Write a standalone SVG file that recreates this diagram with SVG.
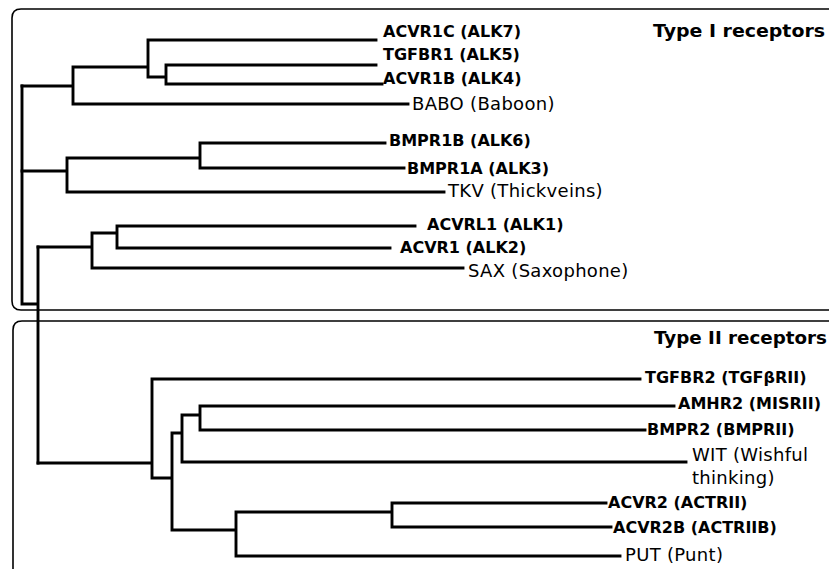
<svg xmlns="http://www.w3.org/2000/svg" width="829" height="569" viewBox="0 0 829 569">
<style>
.box{fill:none;stroke:#000;stroke-width:1.6}
.br{fill:none;stroke:#000;stroke-width:2.9;stroke-linecap:square;stroke-linejoin:miter}
.h{font-family:"DejaVu Sans",sans-serif;font-weight:bold;font-size:16px;fill:#000}
.f{font-family:"DejaVu Sans",sans-serif;font-size:18px;letter-spacing:0.3px;fill:#000}
.t{font-family:"DejaVu Sans",sans-serif;font-weight:bold;font-size:18px;fill:#000}
</style>
<rect width="829" height="569" fill="#fff"/>
<g id="frames">
<path class="box" d="M829 9 H21 Q12 9 12 18 V301 Q12 310 21 310 H829"/>
<path class="box" d="M829 321 H22 Q13 321 13 330 V569"/>
</g>
<g id="connectors">
<path class="br" d="M22 86 V304 H38 M38 247 V463"/>
<path class="br" d="M22 86 H73 M73 67 V104 M73 67 H148 M148 40 V77 M148 40 H376 M148 77 H166 M166 65 V84 M166 65 H376 M166 84 H382 M73 104 H408"/>
<path class="br" d="M22 171 H67 M67 158 V192 M67 158 H200 M200 143 V168 M200 143 H385 M200 168 H404 M67 192 H444"/>
<path class="br" d="M38 247 H92 M92 233 V268 M92 233 H117 M117 226 V248 M117 226 H415 M117 248 H390 M92 268 H463"/>
<path class="br" d="M38 463 H152 M152 379 V478 M152 379 H640 M152 478 H172 M172 433 V530 M172 433 H182 M182 415 V462 M182 415 H200 M200 406 V430 M200 406 H674 M200 430 H645 M182 462 H686 M172 530 H236 M236 512 V556 M236 512 H392 M392 503 V527 M392 503 H606 M392 527 H611 M236 556 H620"/>
</g>
<g id="title1"><text class="t" x="653" y="37" textLength="172" lengthAdjust="spacingAndGlyphs">Type I receptors</text></g>
<g id="title2"><text class="t" x="654" y="344" textLength="173" lengthAdjust="spacingAndGlyphs">Type II receptors</text></g>
<g id="acvr1c"><text class="h" x="383" y="37">ACVR1C (ALK7)</text></g>
<g id="tgfbr1"><text class="h" x="383" y="60">TGFBR1 (ALK5)</text></g>
<g id="acvr1b"><text class="h" x="383" y="84">ACVR1B (ALK4)</text></g>
<g id="babo"><text class="f" x="412" y="110">BABO (Baboon)</text></g>
<g id="bmpr1b"><text class="h" x="389" y="146">BMPR1B (ALK6)</text></g>
<g id="bmpr1a"><text class="h" x="407" y="174">BMPR1A (ALK3)</text></g>
<g id="tkv"><text class="f" x="448" y="197">TKV (Thickveins)</text></g>
<g id="acvrl1"><text class="h" x="427" y="230">ACVRL1 (ALK1)</text></g>
<g id="acvr1"><text class="h" x="400" y="253">ACVR1 (ALK2)</text></g>
<g id="sax"><text class="f" x="468" y="277">SAX (Saxophone)</text></g>
<g id="tgfbr2"><text class="h" x="645" y="383">TGFBR2 (TGFβRII)</text></g>
<g id="amhr2"><text class="h" x="678" y="409">AMHR2 (MISRII)</text></g>
<g id="bmpr2"><text class="h" x="647" y="435">BMPR2 (BMPRII)</text></g>
<g id="wit"><text class="f" x="692" y="461">WIT (Wishful</text><text class="f" x="692" y="484">thinking)</text></g>
<g id="acvr2"><text class="h" x="608" y="508">ACVR2 (ACTRII)</text></g>
<g id="acvr2b"><text class="h" x="613" y="533">ACVR2B (ACTRIIB)</text></g>
<g id="put"><text class="f" x="625" y="561">PUT (Punt)</text></g>
</svg>
